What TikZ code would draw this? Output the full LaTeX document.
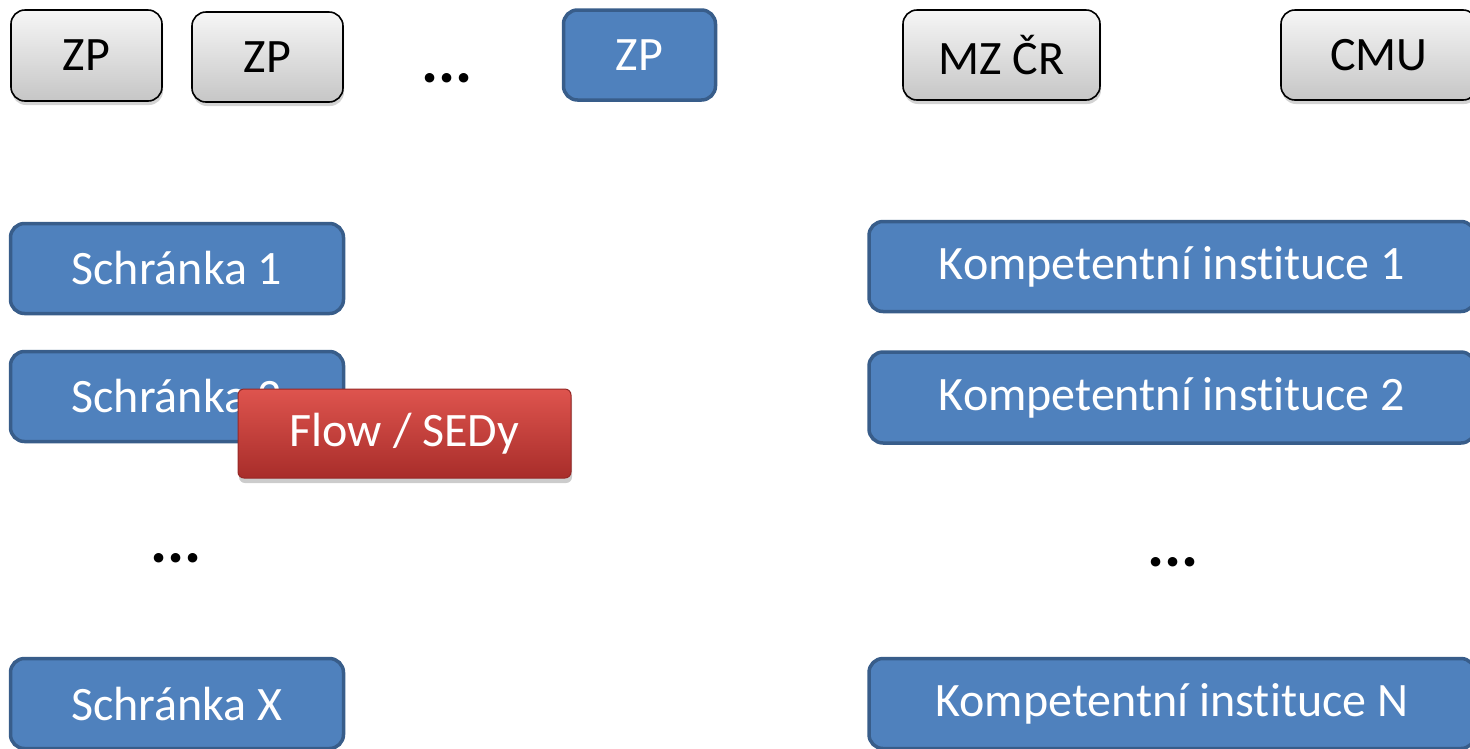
\documentclass[tikz,border=0pt]{standalone}
\usepackage{fontspec}
\setmainfont{Carlito}[Ligatures={NoCommon}]
\usetikzlibrary{shadows}
\definecolor{bluefill}{RGB}{79,129,189}
\definecolor{blueline}{RGB}{56,93,138}
\definecolor{redtop}{RGB}{222,84,78}
\definecolor{redbot}{RGB}{168,45,42}
\definecolor{redline}{RGB}{150,40,38}
\definecolor{graytop}{RGB}{246,246,246}
\definecolor{graybot}{RGB}{198,198,198}
\begin{document}
\begin{tikzpicture}[x=1pt,y=-1pt,
  txt/.style={font=\fontsize{48}{56}\selectfont},
  graybox/.style={txt, draw=black, line width=1.6pt, rounded corners=14pt,
     top color=graytop, bottom color=graybot, text=black,
     drop shadow={opacity=0.35, shadow xshift=1pt, shadow yshift=-4pt}},
  bluebox/.style={txt, draw=blueline, line width=3.5pt, rounded corners=14pt,
     fill=bluefill, text=white},
  redbox/.style={txt, draw=redline, line width=1pt, rounded corners=6pt,
     top color=redtop, bottom color=redbot, text=white,
     drop shadow={opacity=0.4, shadow xshift=1pt, shadow yshift=-5pt}},
  dots/.style={font=\fontsize{64}{70}\selectfont\bfseries, inner sep=0pt, anchor=base, text=black}]
\useasboundingbox (0,0) rectangle (1470,748);
% top row
\node[graybox, minimum width=151pt, minimum height=91pt] (zp1) at (86.5,55.5) {ZP};
\node[graybox, minimum width=151pt, minimum height=90pt] (zp2) at (267.5,57) {ZP};
\node[dots] (d1) at (447,82) {...};
\node[bluebox, minimum width=152pt, minimum height=90pt] (zp3) at (639.5,55) {ZP};
\node[graybox, minimum width=197pt, minimum height=90pt] (mz) at (1001.5,55) {MZ ČR};
\node[graybox, minimum width=196pt, minimum height=90pt] (cmu) at (1379,55) {CMU};
% left column
\node[bluebox, minimum width=333pt, minimum height=90pt] (s1) at (177,268.5) {Schránka 1};
\node[bluebox, minimum width=333pt, minimum height=90pt] (s2) at (177,396.5) {Schránka 2};
\node[redbox, minimum width=333pt, minimum height=89pt] (flow) at (404.5,433.5) {Flow / SEDy};
\node[dots] (d2) at (176,562) {...};
\node[bluebox, minimum width=333pt, minimum height=90pt] (sx) at (177,703.5) {Schránka X};
% right column
\node[bluebox, minimum width=606pt, minimum height=90pt] (k1) at (1172,266.5) {Kompetentní instituce 1};
\node[bluebox, minimum width=606pt, minimum height=91pt] (k2) at (1172,397.5) {Kompetentní instituce 2};
\node[dots] (d3) at (1173,566) {...};
\node[bluebox, minimum width=606pt, minimum height=90pt] (kn) at (1172,703.5) {Kompetentní instituce N};
\end{tikzpicture}
\end{document}
